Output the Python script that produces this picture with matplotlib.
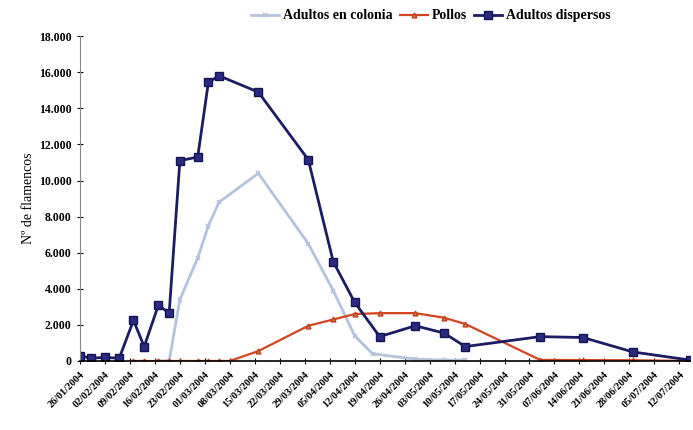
import matplotlib
matplotlib.use("Agg")
import matplotlib.pyplot as plt

# Days since first count (one tick per week)
tick_days = list(range(0, 169, 7))
tick_labels = ["26/01/2004", "02/02/2004", "09/02/2004", "16/02/2004", "23/02/2004",
               "01/03/2004", "08/03/2004", "15/03/2004", "22/03/2004", "29/03/2004",
               "05/04/2004", "12/04/2004", "19/04/2004", "26/04/2004", "03/05/2004",
               "10/05/2004", "17/05/2004", "24/05/2004", "31/05/2004", "07/06/2004",
               "14/06/2004", "21/06/2004", "28/06/2004", "05/07/2004", "12/07/2004"]

# Adultos en colonia
colonia_days = [22, 25, 28, 33, 36, 39, 50, 64, 71, 77, 82, 94, 102, 108]
colonia_vals = [0, 0, 3400, 5700, 7500, 8800, 10400, 6500, 3900, 1400, 400, 100, 50, 50]

# Pollos
pollos_days = [15, 18, 22, 25, 28, 33, 36, 39, 42, 50, 64, 71, 77, 84, 94, 102, 108, 129, 141, 155, 171]
pollos_vals = [0, 0, 0, 0, 0, 0, 0, 0, 0, 550, 1950, 2300, 2600, 2650, 2650, 2400, 2050, 60, 50, 40, 0]

# Adultos dispersos
disp_days = [0, 3, 7, 11, 15, 18, 22, 25, 28, 33, 36, 39, 50, 64, 71, 77, 84, 94, 102, 108, 129, 141, 155, 171]
disp_vals = [300, 150, 200, 150, 2250, 800, 3100, 2650, 11100, 11300, 15450, 15800, 14900, 11150,
             5500, 3250, 1350, 1950, 1550, 800, 1350, 1300, 500, 50]

yticks = [0, 2000, 4000, 6000, 8000, 10000, 12000, 14000, 16000, 18000]
ytick_labels = ["0", "2.000", "4.000", "6.000", "8.000", "10.000", "12.000", "14.000", "16.000", "18.000"]

plt.rcParams['font.family'] = ['Liberation Serif', 'DejaVu Serif']
plt.rcParams['font.weight'] = 'bold'

fig = plt.figure(figsize=(6.93, 4.30), dpi=100)
ax = fig.add_axes([0.1154, 0.1605, 0.8803, 0.7555])

ax.plot(colonia_days, colonia_vals, color="#b4c2dc", lw=2.0, marker="x", ms=3.5, mew=1.2,
        label="Adultos en colonia")
ax.plot(pollos_days, pollos_vals, color="#d2451e", lw=1.6, marker="^", ms=3.5,
        mfc="#e08040", mec="#c04020", label="Pollos")
ax.plot(disp_days, disp_vals, color="#1c1c64", lw=2.0, marker="s", ms=5.5,
        mfc="#2a2a80", mec="#141450", label="Adultos dispersos")

ax.set_xlim(0, 171)
ax.set_ylim(0, 18000)
ax.set_xticks(tick_days)
ax.set_xticklabels(tick_labels, rotation=45, ha="right", rotation_mode="anchor", fontsize=7.5)
ax.set_yticks(yticks)
ax.set_yticklabels(ytick_labels, fontsize=8.5)
ax.tick_params(axis="both", direction="inout", length=5, width=0.8)
ax.tick_params(axis="x", pad=4)

for s in ["top", "right"]:
    ax.spines[s].set_visible(False)
ax.spines["left"].set_color("#888888")
ax.spines["bottom"].set_color("black")
ax.spines["bottom"].set_linewidth(1.2)

ax.set_ylabel("Nº de flamencos", fontsize=10, labelpad=3)

fig.legend(loc="center", bbox_to_anchor=(0.622, 0.963), ncol=3, frameon=False, fontsize=10,
           handlelength=2.0, columnspacing=0.5, handletextpad=0.3)

fig.savefig("out.png", dpi=100)
